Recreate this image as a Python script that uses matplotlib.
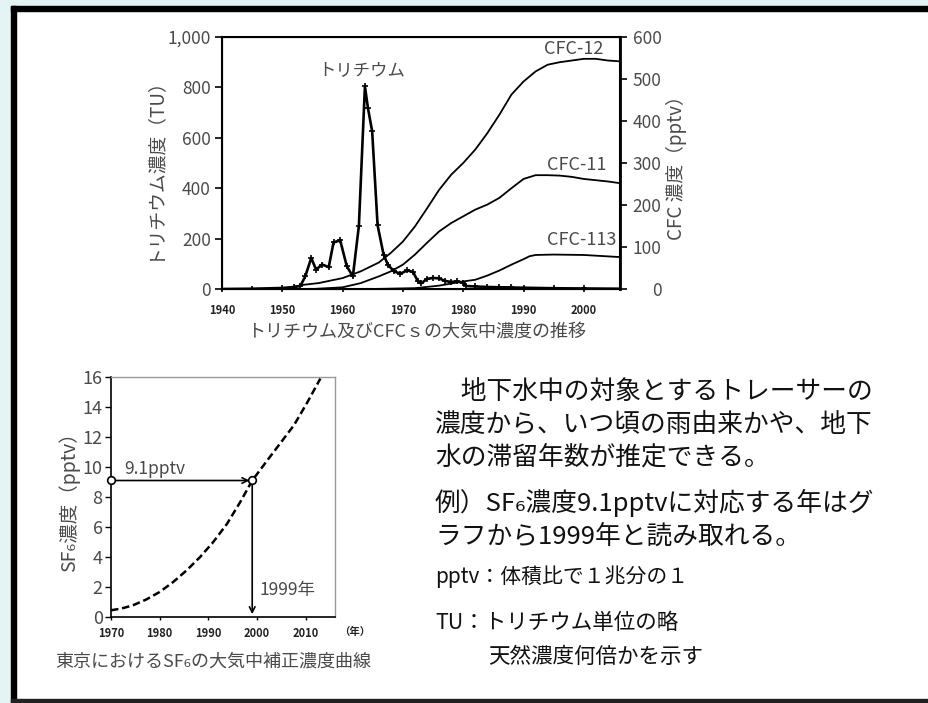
import matplotlib
matplotlib.use("Agg")
import matplotlib.pyplot as plt
from matplotlib.patches import Rectangle

plt.rcParams['font.family'] = ['Noto Sans CJK JP', 'DejaVu Sans']

W, H = 929, 703
GRAY = '#4a4a4a'

# トリチウム (TU)
tri_year = [1940, 1945, 1950, 1952, 1953, 1953.8, 1954.8, 1955.6, 1956.6, 1957.7,
            1958.5, 1959.6, 1960.7, 1961.7, 1962.7, 1963.7, 1964.2, 1964.9, 1965.8,
            1966.8, 1967.5, 1968.5, 1969.6, 1970.7, 1971.7, 1972.5, 1973.0, 1974,
            1975, 1976, 1977, 1978, 1979, 1980, 1980.5, 1982, 1984, 1986, 1988,
            1990, 1995, 2000, 2006]
tri_tu = [0, 1, 4, 8, 12, 50, 123, 77, 97, 87,
          185, 193, 90, 50, 251, 804, 718, 626, 253,
          136, 97, 70, 61, 74, 67, 30, 22, 40,
          44, 42, 32, 28, 30, 25, 12, 10, 8, 7, 6,
          5, 3, 2, 1]

# CFC (pptv)
cfc12_year = [1950, 1953.5, 1956, 1960, 1963, 1966, 1968, 1970, 1972, 1974, 1976, 1978,
              1980, 1982, 1984, 1986, 1988, 1990, 1992, 1994, 1996, 1998, 2000, 2002,
              2004, 2006]
cfc12 = [0, 10, 14, 26, 42, 63, 86, 113, 149, 192, 236, 272,
         300, 332, 371, 415, 463, 494, 518, 534, 540, 544, 548, 548,
         544, 542]
cfc11_year = [1955, 1960, 1963, 1966, 1968, 1970, 1972, 1974, 1976, 1978, 1980, 1982,
              1984, 1986, 1988, 1990, 1992, 1994, 1996, 1998, 2000, 2002, 2004, 2006]
cfc11 = [0, 4, 14, 30, 42, 58, 82, 110, 137, 157, 173, 189,
         201, 217, 240, 262, 271, 271, 270, 267, 262, 259, 256, 252]
cfc113_year = [1965, 1972, 1976, 1980, 1982, 1984, 1986, 1988, 1990, 1991, 1992, 1995,
               2000, 2006]
cfc113 = [0, 2, 8, 18, 22, 32, 44, 58, 71, 78, 81, 82, 81, 76]

# SF6 (pptv)
sf6_year = [1970, 1972.1, 1974.5, 1977.2, 1980, 1982.8, 1985.5, 1988.3, 1991, 1993.8,
            1996.6, 1999, 2002, 2004.8, 2007.6, 2010.3, 2013]
sf6 = [0.45, 0.56, 0.78, 1.16, 1.67, 2.34, 3.1, 4.0, 5.0, 6.2,
       7.7, 9.1, 10.4, 11.6, 12.8, 14.3, 15.9]
read_year = 1999
read_value = 9.1

body_lines = [
    ('\u3000地下水中の対象とするトレーサーの', 435, 392, 18.5),
    ('濃度から、いつ頃の雨由来かや、地下', 435, 425, 18.5),
    ('水の滞留年数が推定できる。', 435, 458, 18.5),
    ('例）SF₆濃度9.1pptvに対応する年はグ', 435, 503, 18.5),
    ('ラフから1999年と読み取れる。', 435, 537, 18.5),
    ('pptv：体積比で１兆分の１', 435, 577, 15),
    ('TU：トリチウム単位の略', 435, 623, 15.5),
    ('天然濃度何倍かを示す', 488, 657, 15.5),
]


def fx(px):
    return px / W


def fy(py):
    return 1 - py / H


fig = plt.figure(figsize=(W / 100, H / 100), dpi=100)
fig.patch.set_facecolor('white')

# 背景の帯と枠
for x0, y0, w, h, c in [(0, 0, W, 6, '#e4f4f4'), (0, 0, 11, H, '#e4f4f4'),
                        (11, 6, W - 11, 5, 'black'), (11, 6, 5, H - 6, 'black'),
                        (11, 699, W - 11, 3, '#222222')]:
    fig.patches.append(Rectangle((fx(x0), fy(y0 + h)), w / W, h / H,
                                 transform=fig.transFigure, color=c, zorder=0))

# ---- 上のグラフ: トリチウムとCFC ----
ax = fig.add_axes([fx(222), fy(289), fx(620) - fx(222), fy(37) - fy(289)])
ax.plot(tri_year, tri_tu, color='black', lw=1.9, marker='+', ms=4.5, mew=1.2, zorder=3)
ax.set_xlim(1940, 2006)
ax.set_ylim(0, 1000)
ax.set_yticks([0, 200, 400, 600, 800, 1000])
ax.set_yticklabels(['0', '200', '400', '600', '800', '1,000'])
ax.set_xticks(range(1940, 2001, 10))
ax.tick_params(axis='y', direction='out', length=5, width=1.2, labelsize=12.5,
               labelcolor=GRAY, pad=3)
ax.tick_params(axis='x', direction='out', length=2, width=1.2, labelsize=8,
               labelcolor='#222222', pad=9)
for lab in ax.get_xticklabels():
    lab.set_fontweight('bold')
for s in ax.spines.values():
    s.set_linewidth(1.5)
ax.set_ylabel('トリチウム濃度（TU）', fontsize=13.5, color=GRAY, labelpad=3)
ax.text(1963.2, 870, 'トリチウム', fontsize=12.5, color=GRAY, ha='center', va='center')

ax2 = ax.twinx()
ax2.plot(cfc12_year, cfc12, color='black', lw=1.3)
ax2.plot(cfc11_year, cfc11, color='black', lw=1.3)
ax2.plot(cfc113_year, cfc113, color='black', lw=1.3)
ax2.set_ylim(0, 600)
ax2.set_yticks(range(0, 601, 100))
ax2.tick_params(axis='y', direction='out', length=5, width=1.2, labelsize=12.5,
                labelcolor=GRAY, pad=25)
for lab in ax2.get_yticklabels():
    lab.set_horizontalalignment('right')
ax2.spines['right'].set_linewidth(2)
ax2.set_ylabel('CFC 濃度（pptv）', fontsize=13.5, color=GRAY, labelpad=3)
ax2.text(1998.3, 571, 'CFC-12', fontsize=13, color=GRAY, ha='center', va='center')
ax2.text(1998.9, 296, 'CFC-11', fontsize=13, color=GRAY, ha='center', va='center')
ax2.text(1999.7, 117, 'CFC-113', fontsize=13, color=GRAY, ha='center', va='center')

fig.text(fx(417), fy(333), 'トリチウム及びCFCｓの大気中濃度の推移', fontsize=13,
         color=GRAY, ha='center', va='center')

# ---- 下のグラフ: SF6 ----
bx = fig.add_axes([fx(111), fy(617), fx(335) - fx(111), fy(377) - fy(617)])
bx.plot(sf6_year, sf6, color='black', lw=1.8, ls=(0, (3, 1.5)))
bx.annotate('', xy=(read_year, read_value), xytext=(1970, read_value),
            arrowprops=dict(arrowstyle='->', color='black', lw=1.2))
bx.annotate('', xy=(read_year, 0), xytext=(read_year, read_value),
            arrowprops=dict(arrowstyle='->', color='black', lw=1.2))
bx.plot([1970, read_year], [read_value, read_value], ls='none', marker='o', ms=5.5,
        mfc='white', mec='black', mew=1.2, clip_on=False, zorder=5)
bx.text(1972.8, 9.9, '9.1pptv', fontsize=12.5, color=GRAY, ha='left', va='center')
bx.text(2000.5, 1.8, '1999年', fontsize=12.5, color=GRAY, ha='left', va='center')
bx.set_xlim(1970, 2016)
bx.set_ylim(0, 16)
bx.set_yticks(range(0, 17, 2))
bx.set_xticks(range(1970, 2011, 10))
bx.tick_params(axis='y', direction='out', length=4, width=1, labelsize=13,
               labelcolor=GRAY, pad=2)
bx.tick_params(axis='x', direction='out', length=2, width=1, labelsize=8,
               labelcolor='#222222', pad=5)
for lab in bx.get_xticklabels():
    lab.set_fontweight('bold')
bx.spines['left'].set_linewidth(1.2)
bx.spines['bottom'].set_linewidth(1.2)
for side in ['top', 'right']:
    bx.spines[side].set_color('#999999')
    bx.spines[side].set_linewidth(1)
bx.set_ylabel('SF₆濃度（pptv）', fontsize=14, color=GRAY, labelpad=2)
bx.text(1.02, -0.06, '（年）', transform=bx.transAxes, fontsize=7.5, fontweight='bold',
        color='#222222', ha='left', va='center')

fig.text(fx(213), fy(662), '東京におけるSF₆の大気中補正濃度曲線', fontsize=13,
         color=GRAY, ha='center', va='center')

# ---- 説明文 ----
for txt, x, y, size in body_lines:
    fig.text(fx(x), fy(y), txt, fontsize=size, color='#111111', ha='left', va='center')

fig.savefig('out.png', dpi=100)
